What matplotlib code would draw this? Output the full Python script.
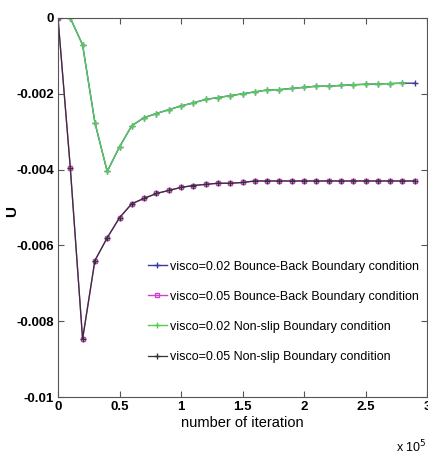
import matplotlib.pyplot as plt
import numpy as np

# iterations in units of 1e5
iters = [0.0, 0.1, 0.2, 0.3, 0.4, 0.5, 0.6, 0.7, 0.8, 0.9, 1.0, 1.1, 1.2, 1.3, 1.4,
         1.5, 1.6, 1.7, 1.8, 1.9, 2.0, 2.1, 2.2, 2.3, 2.4, 2.5, 2.6, 2.7, 2.8, 2.9]

u_002 = [0.0, 0.0, -0.00071, -0.00276, -0.00405, -0.0034, -0.00284, -0.00263, -0.00252,
         -0.00242, -0.00232, -0.00224, -0.00215, -0.0021, -0.00205, -0.0020, -0.00195,
         -0.0019, -0.00189, -0.00186, -0.00183, -0.0018, -0.0018, -0.00178, -0.00176,
         -0.00175, -0.00174, -0.00173, -0.00172, -0.00172]

u_005 = [0.0, -0.00395, -0.00847, -0.0064, -0.0058, -0.00527, -0.0049, -0.00476, -0.00463,
         -0.00455, -0.00447, -0.00442, -0.00439, -0.00436, -0.00436, -0.00434, -0.0043,
         -0.0043, -0.0043, -0.0043, -0.0043, -0.0043, -0.0043, -0.0043, -0.0043,
         -0.0043, -0.0043, -0.0043, -0.0043, -0.0043]

labels = ["visco=0.02 Bounce-Back Boundary condition",
          "visco=0.05 Bounce-Back Boundary condition",
          "visco=0.02 Non-slip Boundary condition",
          "visco=0.05 Non-slip Boundary condition"]

plt.rcParams['font.family'] = ['Liberation Sans', 'DejaVu Sans']

fig = plt.figure(figsize=(4.28, 4.61), dpi=100)
ax = fig.add_axes([58 / 428, 64 / 461, 369 / 428, 379 / 461])

x = np.array(iters)
ax.plot(x, u_002, color="#3a3a9a", marker="+", markersize=5, linewidth=1, label=labels[0])
ax.plot(x, u_005, color="#cc44cc", marker="s", markersize=3.5, markerfacecolor="none",
        linewidth=1, label=labels[1])
ax.plot(x[:-1], u_002[:-1], color="#55cc55", marker="+", markersize=5, linewidth=1,
        label=labels[2])
ax.plot(x, u_005, color="#333333", marker="+", markersize=4, linewidth=0.9, label=labels[3])

ax.set_xlim(0, 3)
ax.set_ylim(-0.01, 0)
ax.set_xticks([0, 0.5, 1, 1.5, 2, 2.5, 3])
ax.set_xticklabels(["0", "0.5", "1", "1.5", "2", "2.5", "3"])
ax.set_yticks([-0.01, -0.008, -0.006, -0.004, -0.002, 0])
ax.set_yticklabels(["-0.01", "-0.008", "-0.006", "-0.004", "-0.002", "0"])
ax.tick_params(direction="in", top=True, right=True, labelsize=9.5, length=4,
               color="#555555", pad=3)
for lab in ax.get_xticklabels() + ax.get_yticklabels():
    lab.set_fontweight("bold")
for s in ax.spines.values():
    s.set_color("#555555")

ax.set_xlabel("number of iteration", fontsize=10.5, labelpad=2)
ax.set_ylabel("U", fontsize=11, fontweight="bold")
ax.yaxis.set_label_coords(-0.105, 0.49)
fig.text(0.925, 0.018, r"x 10$^5$", fontsize=9)

ax.legend(loc="lower right", bbox_to_anchor=(1.0, 0.07), frameon=False, fontsize=9,
          handlelength=1.5, handletextpad=0.3, labelspacing=1.45, borderaxespad=0.2)

fig.savefig("out.png", dpi=100)
